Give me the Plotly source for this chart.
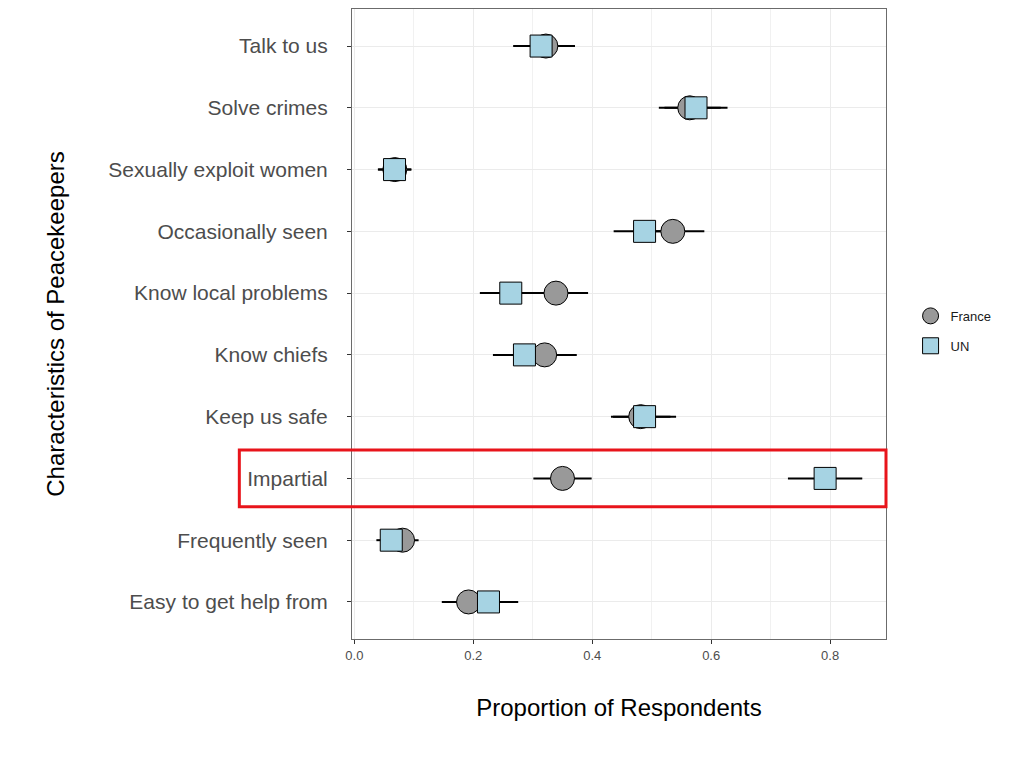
import plotly.graph_objects as go

categories = ["Easy to get help from", "Frequently seen", "Impartial", "Keep us safe",
              "Know chiefs", "Know local problems", "Occasionally seen",
              "Sexually exploit women", "Solve crimes", "Talk to us"]

france_mean = [0.192, 0.081, 0.350, 0.4815, 0.320, 0.339, 0.5355, 0.068, 0.564, 0.322]
france_err  = [0.045, 0.027, 0.049, 0.050, 0.054, 0.054, 0.053, 0.028, 0.052, 0.049]
un_mean     = [0.2255, 0.062, 0.7916, 0.488, 0.286, 0.263, 0.488, 0.0675, 0.5745, 0.314]
un_err      = [0.050, 0.025, 0.0625, 0.053, 0.053, 0.052, 0.052, 0.028, 0.053, 0.047]

highlight = "Impartial"

FONT = "Liberation Sans, Arial, sans-serif"

def seg(means, errs, cats):
    xs, ys = [], []
    for m, e, c in zip(means, errs, cats):
        xs += [m - e, m + e, None]
        ys += [c, c, None]
    return xs, ys

fig = go.Figure()
for means, errs in [(france_mean, france_err), (un_mean, un_err)]:
    xs, ys = seg(means, errs, categories)
    fig.add_trace(go.Scatter(x=xs, y=ys, mode="lines", line=dict(color="black", width=2),
                             showlegend=False, hoverinfo="skip"))

fig.add_trace(go.Scatter(x=france_mean, y=categories, mode="markers", name="France",
                         legendgroup="F",
                         marker=dict(symbol="circle", size=24, color="#999999",
                                     line=dict(color="black", width=1))))
fig.add_trace(go.Scatter(x=un_mean, y=categories, mode="markers", name="UN",
                         legendgroup="U",
                         marker=dict(symbol="square", size=22, color="#A6D3E3",
                                     line=dict(color="black", width=1))))

hi = categories.index(highlight)
fig.add_shape(type="rect", xref="paper", yref="y", x0=-0.211, x1=1.0,
              y0=hi - 0.46, y1=hi + 0.46, line=dict(color="#E8141B", width=3),
              fillcolor="rgba(0,0,0,0)", layer="above")

fig.update_layout(
    width=1024, height=768,
    paper_bgcolor="white", plot_bgcolor="white",
    margin=dict(l=344, r=146, t=1, b=137, autoexpand=False),
    font=dict(family=FONT, color="#4d4d4d"),
    legend=dict(x=1.046, y=0.489, xanchor="left", yanchor="middle",
                font=dict(size=13, color="#1a1a1a"), itemsizing="trace",
                tracegroupgap=10),
    xaxis=dict(range=[-0.004, 0.894], tickvals=[0, 0.2, 0.4, 0.6, 0.8],
               ticktext=["0.0", "0.2", "0.4", "0.6", "0.8"],
               showgrid=True, gridcolor="#EBEBEB", gridwidth=1.2,
               minor=dict(tickvals=[0.1, 0.3, 0.5, 0.7], showgrid=True,
                          gridcolor="#F1F1F1", gridwidth=0.8),
               zeroline=False, showline=True, mirror=True, linecolor="#6b6b6b", linewidth=1,
               ticks="outside", ticklen=4, tickcolor="#333333",
               tickfont=dict(size=13, color="#4d4d4d"),
               title=dict(text="Proportion of Respondents", standoff=37,
                          font=dict(size=24, color="black"))),
    yaxis=dict(type="category", categoryorder="array", categoryarray=categories,
               range=[-0.6, 9.6],
               showgrid=True, gridcolor="#EBEBEB", gridwidth=1.2,
               zeroline=False, showline=True, mirror=True, linecolor="#6b6b6b", linewidth=1,
               ticks="outside", ticklen=4, tickcolor="#333333",
               ticklabelstandoff=15,
               tickfont=dict(size=21, color="#4d4d4d"),
               title=dict(text="Characteristics of Peacekeepers", standoff=36,
                          font=dict(size=24, color="black"))),
)

fig.write_html("out.html")
